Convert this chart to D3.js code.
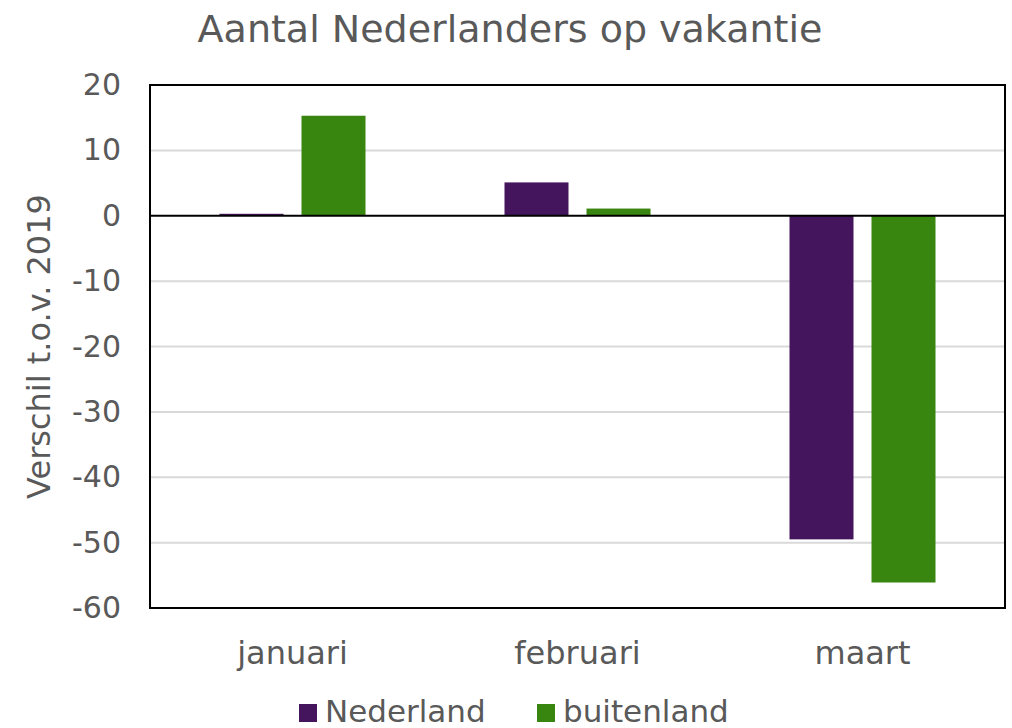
<!DOCTYPE html>
<html>
<head>
<meta charset="utf-8">
<script src="https://cdn.jsdelivr.net/npm/d3@7"></script>
<style>
  body { margin: 0; background: #fff; }
  svg { display: block; font-family: "DejaVu Sans", Verdana, sans-serif; }
</style>
</head>
<body>
<svg id="chart" width="1012" height="728"></svg>
<script>
// Maanden en verschil t.o.v. 2019 (%)
const categories = ["januari", "februari", "maart"];
const seriesNames = ["Nederland", "buitenland"];
const nederland = [0.3, 5.1, -49.5];
const buitenland = [15.3, 1.1, -56.1];
const yTicks = [20, 10, 0, -10, -20, -30, -40, -50, -60];
const colors = ["#44145c", "#38860f"];

const series = [nederland, buitenland];
const svg = d3.select("#chart");
const m = { left: 150, right: 1005, top: 85, bottom: 608 };
const textColor = "#595959";

const x = d3.scaleBand().domain(categories).range([m.left, m.right]);
const y = d3.scaleLinear().domain([-60, 20]).range([m.bottom, m.top]);

// gridlines
svg.append("g").selectAll("line").data(yTicks.filter(t => t !== 0 && t !== 20 && t !== -60))
  .join("line")
  .attr("x1", m.left).attr("x2", m.right)
  .attr("y1", d => y(d)).attr("y2", d => y(d))
  .attr("stroke", "#d9d9d9").attr("stroke-width", 2);

// bars
const barW = 64, gap = 18;
const groups = svg.append("g").selectAll("g").data(categories).join("g")
  .attr("transform", d => `translate(${x(d) + x.bandwidth() / 2 - (2 * barW + gap) / 2},0)`);
groups.selectAll("rect")
  .data((c, i) => series.map((s, j) => ({ v: s[i], j })))
  .join("rect")
  .attr("x", d => d.j * (barW + gap))
  .attr("width", barW)
  .attr("y", d => Math.min(y(d.v), y(0)))
  .attr("height", d => Math.abs(y(d.v) - y(0)))
  .attr("fill", d => colors[d.j]);

// zero line
svg.append("line")
  .attr("x1", m.left).attr("x2", m.right)
  .attr("y1", y(0)).attr("y2", y(0))
  .attr("stroke", "#000").attr("stroke-width", 2);

// frame
svg.append("rect")
  .attr("x", m.left).attr("y", m.top)
  .attr("width", m.right - m.left).attr("height", m.bottom - m.top)
  .attr("fill", "none").attr("stroke", "#000").attr("stroke-width", 2);

// y axis
const yAxis = d3.axisLeft(y).tickValues(yTicks).tickSize(0).tickPadding(29)
  .tickFormat(d => String(d));
const ya = svg.append("g").attr("transform", `translate(${m.left},0)`).call(yAxis);
ya.select(".domain").remove();
ya.selectAll("text").attr("fill", textColor).style("font-size", "30px")
  .style("font-family", "DejaVu Sans, Verdana, sans-serif");

// x axis labels
const xAxis = d3.axisBottom(x).tickSize(0).tickPadding(33);
const xa = svg.append("g").attr("transform", `translate(0,${m.bottom})`).call(xAxis);
xa.select(".domain").remove();
xa.selectAll("text").attr("fill", textColor).style("font-size", "32px")
  .style("font-family", "DejaVu Sans, Verdana, sans-serif");

// title
svg.append("text")
  .attr("x", 510).attr("y", 42)
  .attr("text-anchor", "middle")
  .attr("fill", textColor).style("font-size", "38px")
  .text("Aantal Nederlanders op vakantie");

// y axis title
svg.append("text")
  .attr("transform", `translate(50,${(m.top + m.bottom) / 2}) rotate(-90)`)
  .attr("text-anchor", "middle")
  .attr("fill", textColor).style("font-size", "32px")
  .text("Verschil t.o.v. 2019");

// legend
const legendX = [299, 537];
const lg = svg.append("g").selectAll("g").data(seriesNames).join("g")
  .attr("transform", (d, i) => `translate(${legendX[i]},704)`);
lg.append("rect").attr("width", 18).attr("height", 18)
  .attr("fill", (d, i) => colors[i]);
lg.append("text").attr("x", 26).attr("y", 18)
  .attr("fill", textColor).style("font-size", "31px")
  .text(d => d);
</script>
</body>
</html>
